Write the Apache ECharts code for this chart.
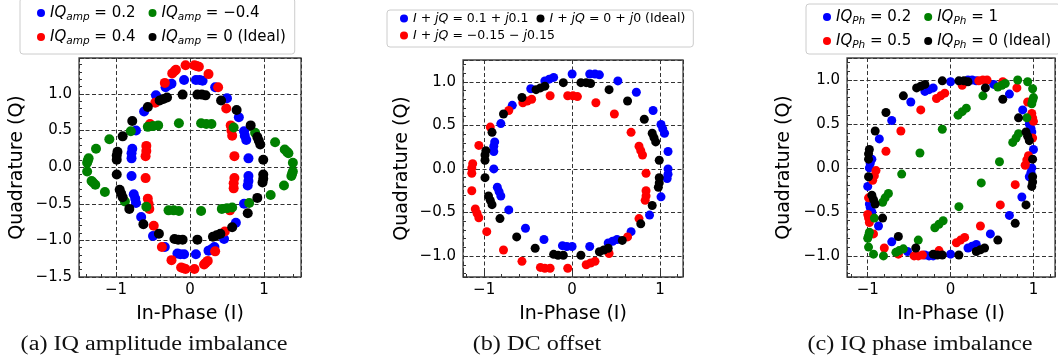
<!DOCTYPE html>
<html>
<head>
<meta charset="utf-8">
<script src="https://cdn.jsdelivr.net/npm/echarts@6/dist/echarts.min.js"></script>
<style>
html, body { margin: 0; padding: 0; background: #fff; }
#chart { width: 1058px; height: 364px; }
</style>
</head>
<body>
<div id="chart"></div>
<script>
// ideal constellation points (same in all three panels)
var idealPts = [
  [0.98,-0.21],[0.99,-0.16],[0.99,-0.1],[0.99,0.1],[0.95,0.31],[0.93,0.36],[0.91,0.41],[0.82,0.57],[0.63,0.78],[0.42,0.91],
  [0.21,0.98],[0.16,0.99],[0.1,0.99],[-0.1,0.99],[-0.31,0.95],[-0.36,0.93],[-0.41,0.91],[-0.57,0.82],[-0.78,0.63],[-0.91,0.42],
  [-0.98,0.21],[-0.99,0.16],[-0.99,0.1],[-0.99,-0.1],[-0.95,-0.31],[-0.93,-0.36],[-0.91,-0.41],[-0.82,-0.57],[-0.63,-0.78],[-0.42,-0.91],
  [-0.21,-0.98],[-0.16,-0.99],[-0.1,-0.99],[0.1,-0.99],[0.31,-0.95],[0.36,-0.93],[0.41,-0.91],[0.57,-0.82],[0.78,-0.63],[0.91,-0.42]
];

// (a) IQ amplitude imbalance
var amp02 = [
  [0.78,-0.25],[0.79,-0.19],[0.79,-0.12],[0.79,0.12],[0.76,0.37],[0.74,0.43],[0.73,0.49],[0.66,0.68],[0.5,0.94],[0.34,1.09],
  [0.17,1.18],[0.13,1.19],[0.08,1.19],[-0.08,1.19],[-0.25,1.14],[-0.29,1.12],[-0.33,1.09],[-0.46,0.98],[-0.62,0.76],[-0.73,0.5],
  [-0.78,0.25],[-0.79,0.19],[-0.79,0.12],[-0.79,-0.12],[-0.76,-0.37],[-0.74,-0.43],[-0.73,-0.49],[-0.66,-0.68],[-0.5,-0.94],[-0.34,-1.09],
  [-0.17,-1.18],[-0.13,-1.19],[-0.08,-1.19],[0.08,-1.19],[0.25,-1.14],[0.29,-1.12],[0.33,-1.09],[0.46,-0.98],[0.62,-0.76],[0.73,-0.5]
];
var amp04 = [
  [0.59,-0.29],[0.59,-0.22],[0.6,-0.15],[0.6,0.15],[0.57,0.43],[0.56,0.5],[0.55,0.57],[0.49,0.8],[0.38,1.09],[0.25,1.27],
  [0.12,1.37],[0.09,1.38],[0.06,1.39],[-0.06,1.39],[-0.19,1.33],[-0.21,1.31],[-0.24,1.28],[-0.34,1.15],[-0.47,0.88],[-0.54,0.59],
  [-0.59,0.29],[-0.59,0.22],[-0.6,0.15],[-0.6,-0.15],[-0.57,-0.43],[-0.56,-0.5],[-0.55,-0.57],[-0.49,-0.8],[-0.38,-1.09],[-0.25,-1.27],
  [-0.12,-1.37],[-0.09,-1.38],[-0.06,-1.39],[0.06,-1.39],[0.19,-1.33],[0.21,-1.31],[0.24,-1.28],[0.34,-1.15],[0.47,-0.88],[0.54,-0.59]
];
var ampNeg04 = [
  [1.37,-0.12],[1.38,-0.09],[1.39,-0.06],[1.39,0.06],[1.33,0.19],[1.31,0.21],[1.28,0.24],[1.15,0.34],[0.88,0.47],[0.59,0.54],
  [0.29,0.59],[0.22,0.59],[0.15,0.6],[-0.15,0.6],[-0.43,0.57],[-0.5,0.56],[-0.57,0.55],[-0.8,0.49],[-1.09,0.38],[-1.27,0.25],
  [-1.37,0.12],[-1.38,0.09],[-1.39,0.06],[-1.39,-0.06],[-1.33,-0.19],[-1.31,-0.21],[-1.28,-0.24],[-1.15,-0.34],[-0.88,-0.47],[-0.59,-0.54],
  [-0.29,-0.59],[-0.22,-0.59],[-0.15,-0.6],[0.15,-0.6],[0.43,-0.57],[0.5,-0.56],[0.57,-0.55],[0.8,-0.49],[1.09,-0.38],[1.27,-0.25]
];

// (b) DC offset
var dcPos = [
  [1.08,-0.11],[1.09,-0.06],[1.09,0],[1.09,0.2],[1.05,0.41],[1.03,0.46],[1.01,0.51],[0.92,0.67],[0.73,0.88],[0.52,1.01],
  [0.31,1.08],[0.26,1.09],[0.2,1.09],[0,1.09],[-0.21,1.05],[-0.26,1.03],[-0.31,1.01],[-0.47,0.92],[-0.68,0.73],[-0.81,0.52],
  [-0.88,0.31],[-0.89,0.26],[-0.89,0.2],[-0.89,0],[-0.85,-0.21],[-0.83,-0.26],[-0.81,-0.31],[-0.72,-0.47],[-0.53,-0.68],[-0.32,-0.81],
  [-0.11,-0.88],[-0.06,-0.89],[0,-0.89],[0.2,-0.89],[0.41,-0.85],[0.46,-0.83],[0.51,-0.81],[0.67,-0.72],[0.88,-0.53],[1.01,-0.32]
];
var dcNeg = [
  [0.83,-0.36],[0.84,-0.31],[0.84,-0.25],[0.84,-0.05],[0.8,0.16],[0.78,0.21],[0.76,0.26],[0.67,0.42],[0.48,0.63],[0.27,0.76],
  [0.06,0.83],[0.01,0.84],[-0.05,0.84],[-0.25,0.84],[-0.46,0.8],[-0.51,0.78],[-0.56,0.76],[-0.72,0.67],[-0.93,0.48],[-1.06,0.27],
  [-1.13,0.06],[-1.14,0.01],[-1.14,-0.05],[-1.14,-0.25],[-1.1,-0.46],[-1.08,-0.51],[-1.06,-0.56],[-0.97,-0.72],[-0.78,-0.93],[-0.57,-1.06],
  [-0.36,-1.13],[-0.31,-1.14],[-0.25,-1.14],[-0.05,-1.14],[0.16,-1.1],[0.21,-1.08],[0.26,-1.06],[0.42,-0.97],[0.63,-0.78],[0.76,-0.57]
];

// (c) IQ phase imbalance
var ph02 = [
  [0.95,-0.1],[0.97,-0.05],[0.98,0],[1,0.21],[0.98,0.41],[0.97,0.45],[0.95,0.5],[0.87,0.66],[0.71,0.84],[0.52,0.95],
  [0.31,0.99],[0.26,1],[0.21,1],[0,0.98],[-0.21,0.91],[-0.26,0.89],[-0.31,0.87],[-0.48,0.75],[-0.71,0.54],[-0.86,0.33],
  [-0.95,0.1],[-0.97,0.05],[-0.98,0],[-1,-0.21],[-0.98,-0.41],[-0.97,-0.45],[-0.95,-0.5],[-0.87,-0.66],[-0.71,-0.84],[-0.52,-0.95],
  [-0.31,-0.99],[-0.26,-1],[-0.21,-1],[0,-0.98],[0.21,-0.91],[0.26,-0.89],[0.31,-0.87],[0.48,-0.75],[0.71,-0.54],[0.86,-0.33]
];
var ph05 = [
  [0.9,0.03],[0.92,0.09],[0.94,0.14],[0.99,0.34],[1,0.53],[0.99,0.57],[0.98,0.62],[0.93,0.75],[0.8,0.91],[0.63,0.98],
  [0.44,1],[0.39,1],[0.34,0.99],[0.14,0.94],[-0.07,0.85],[-0.12,0.82],[-0.17,0.79],[-0.36,0.66],[-0.6,0.42],[-0.78,0.19],
  [-0.9,-0.03],[-0.92,-0.09],[-0.94,-0.14],[-0.99,-0.34],[-1,-0.53],[-0.99,-0.57],[-0.98,-0.62],[-0.93,-0.75],[-0.8,-0.91],[-0.63,-0.98],
  [-0.44,-1],[-0.39,-1],[-0.34,-0.99],[-0.14,-0.94],[0.07,-0.85],[0.12,-0.82],[0.17,-0.79],[0.36,-0.66],[0.6,-0.42],[0.78,-0.19]
];
var ph1 = [
  [0.75,0.29],[0.79,0.34],[0.82,0.39],[0.92,0.57],[0.98,0.73],[0.99,0.77],[1,0.8],[0.99,0.9],[0.93,0.98],[0.81,1],
  [0.66,0.96],[0.62,0.94],[0.57,0.92],[0.39,0.82],[0.19,0.68],[0.14,0.64],[0.09,0.6],[-0.1,0.44],[-0.37,0.17],[-0.59,-0.07],
  [-0.75,-0.29],[-0.79,-0.34],[-0.82,-0.39],[-0.92,-0.57],[-0.98,-0.73],[-0.99,-0.77],[-1,-0.8],[-0.99,-0.9],[-0.93,-0.98],[-0.81,-1],
  [-0.66,-0.96],[-0.62,-0.94],[-0.57,-0.92],[-0.39,-0.82],[-0.19,-0.68],[-0.14,-0.64],[-0.09,-0.6],[0.1,-0.44],[0.37,-0.17],[0.59,0.07]
];

// tick labels
var ampXTicks = [-1, 0, 1];
var ampYTicks = [-1.5, -1, -0.5, 0, 0.5, 1];
var dcXTicks = [-1, 0, 1];
var dcYTicks = [-1, -0.5, 0, 0.5, 1];
var phXTicks = [-1, 0, 1];
var phYTicks = [-1, -0.5, 0, 0.5, 1];

var captions = ['(a) IQ amplitude imbalance', '(b) DC offset', '(c) IQ phase imbalance'];

var FONT = 'DejaVu Sans';

function tickText(v, list, digits) {
  for (var k = 0; k < list.length; k++) {
    if (Math.abs(list[k] - v) < 1e-6) return list[k].toFixed(digits).replace('-', '\u2212');
  }
  return '';
}

function xAxisOf(g, min, max, ticks) {
  return {
    type: 'value', gridIndex: g, min: min, max: max, minInterval: 1, maxInterval: 1,
    name: 'In-Phase (I)', nameLocation: 'middle', nameGap: 28,
    nameTextStyle: { fontFamily: FONT, fontSize: 19, color: '#000' },
    axisLine: { show: false, onZero: false },
    axisTick: { show: true, inside: true, length: 5, lineStyle: { color: '#333' } },
    minorTick: { show: true, splitNumber: 5, length: 3, lineStyle: { color: '#333' } },
    axisLabel: { fontFamily: FONT, fontSize: 15, color: '#000', margin: 6,
      formatter: function (v) { return tickText(v, ticks, 0); } },
    splitLine: { show: true, lineStyle: { color: '#333', width: 1, type: [4, 2.5] } }
  };
}

function yAxisOf(g, min, max, ticks, gap) {
  return {
    type: 'value', gridIndex: g, min: min, max: max, minInterval: 0.5, maxInterval: 0.5,
    name: 'Quadrature (Q)', nameLocation: 'middle', nameGap: gap,
    nameTextStyle: { fontFamily: FONT, fontSize: 19, color: '#000' },
    axisLine: { show: false, onZero: false },
    axisTick: { show: true, inside: true, length: 5, lineStyle: { color: '#333' } },
    minorTick: { show: true, splitNumber: 5, length: 3, lineStyle: { color: '#333' } },
    axisLabel: { fontFamily: FONT, fontSize: 15, color: '#000', margin: 7,
      formatter: function (v) { return tickText(v, ticks, 1); } },
    splitLine: { show: true, lineStyle: { color: '#333', width: 1, type: [4, 2.5] } }
  };
}

function dots(name, data, g, color, size) {
  return {
    name: name, type: 'scatter', xAxisIndex: g, yAxisIndex: g, data: data,
    symbol: 'circle', symbolSize: size, itemStyle: { color: color, opacity: 1 }
  };
}

// legend text (mathtext-like)
function richSet(fs, lh, sub, gapRight, subDrop) {
  return {
    i: { fontFamily: FONT, fontStyle: 'italic', fontSize: fs, lineHeight: lh, color: '#000' },
    s: { fontFamily: FONT, fontStyle: 'italic', fontSize: sub, lineHeight: lh, padding: [subDrop, 0, 0, 0], color: '#000' },
    n: { fontFamily: FONT, fontSize: fs, lineHeight: lh, color: '#000' },
    e: { fontFamily: FONT, fontSize: fs, lineHeight: lh, padding: [0, gapRight, 0, 0], color: '#000' }
  };
}

var legendText = {
  'amp 0.2': '{i|IQ}{s|amp}{e| = 0.2}',
  'amp 0.4': '{i|IQ}{s|amp}{e| = 0.4}',
  'amp -0.4': '{i|IQ}{s|amp}{e| = \u22120.4}',
  'amp 0': '{i|IQ}{s|amp}{e| = 0 (Ideal)}',
  'dc +0.1': '{i|I}{n| + }{i|jQ}{n| = 0.1 + }{i|j}{e|0.1}',
  'dc -0.15': '{i|I}{n| + }{i|jQ}{n| = \u22120.15 \u2212 }{i|j}{e|0.15}',
  'dc 0': '{i|I}{n| + }{i|jQ}{n| = 0 + }{i|j}{e|0 (Ideal)}',
  'ph 0.2': '{i|IQ}{s|Ph}{e| = 0.2}',
  'ph 0.5': '{i|IQ}{s|Ph}{e| = 0.5}',
  'ph 1': '{i|IQ}{s|Ph}{e| = 1}',
  'ph 0': '{i|IQ}{s|Ph}{e| = 0 (Ideal)}'
};

function legendOf(left, top, pad, gap, data, rich, width) {
  return {
    left: left, top: top, width: width, orient: 'horizontal', padding: pad, itemGap: gap,
    itemWidth: 8, itemHeight: 8, icon: 'circle', selectedMode: false,
    borderColor: '#cccccc', borderWidth: 1, borderRadius: 3, backgroundColor: 'rgba(255,255,255,0.8)',
    data: data,
    formatter: function (name) { return legendText[name]; },
    textStyle: { rich: rich }
  };
}

function caption(text, cx) {
  return {
    type: 'text', x: cx, y: 345, scaleX: 1.21, scaleY: 1,
    style: { text: text, font: '20px "Liberation Serif"', fill: '#111', align: 'center', verticalAlign: 'middle' }
  };
}

var chart = echarts.init(document.getElementById('chart'));

var option = {
  animation: false,
  backgroundColor: '#fff',
  grid: [
    { left: 79, top: 58, width: 222, height: 219, show: true, borderColor: '#444', borderWidth: 1.3, backgroundColor: 'transparent' },
    { left: 463, top: 60, width: 220, height: 217, show: true, borderColor: '#444', borderWidth: 1.3, backgroundColor: 'transparent' },
    { left: 847, top: 58, width: 222, height: 219, show: true, borderColor: '#444', borderWidth: 1.3, backgroundColor: 'transparent' }
  ],
  xAxis: [
    xAxisOf(0, -1.5, 1.5, ampXTicks),
    xAxisOf(1, -1.24, 1.26, dcXTicks),
    xAxisOf(2, -1.25, 1.26, phXTicks)
  ],
  yAxis: [
    yAxisOf(0, -1.5, 1.49, ampYTicks, 52),
    yAxisOf(1, -1.24, 1.25, dcYTicks, 51),
    yAxisOf(2, -1.24, 1.25, phYTicks, 53)
  ],
  legend: [
    legendOf(20, -2, [5, 0, 7, 17], 4, ['amp 0.2', 'amp -0.4', '', 'amp 0.4', 'amp 0'], richSet(15, 20, 10.5, 9, 9)),
    legendOf(387, 10, [2, 4, 5, 13], 4, ['dc +0.1', 'dc 0', '', 'dc -0.15'], richSet(12.5, 18, 9, 4, 8)),
    legendOf(806, 4, [3, 0, 3, 17], 4, ['ph 0.2', 'ph 1', '', 'ph 0.5', 'ph 0'], richSet(15, 20, 10.5, 9, 9), 300)
  ],
  series: [
    dots('amp 0.2', amp02, 0, 'blue', 10),
    dots('amp 0.4', amp04, 0, 'red', 10),
    dots('amp -0.4', ampNeg04, 0, 'green', 10),
    dots('amp 0', idealPts, 0, 'black', 10),
    dots('dc +0.1', dcPos, 1, 'blue', 9),
    dots('dc -0.15', dcNeg, 1, 'red', 9),
    dots('dc 0', idealPts, 1, 'black', 9),
    dots('ph 0.2', ph02, 2, 'blue', 9),
    dots('ph 0.5', ph05, 2, 'red', 9),
    dots('ph 1', ph1, 2, 'green', 9),
    dots('ph 0', idealPts, 2, 'black', 9)
  ],
  graphic: [
    caption(captions[0], 154),
    caption(captions[1], 537),
    caption(captions[2], 920)
  ]
};

chart.setOption(option);
</script>
</body>
</html>
